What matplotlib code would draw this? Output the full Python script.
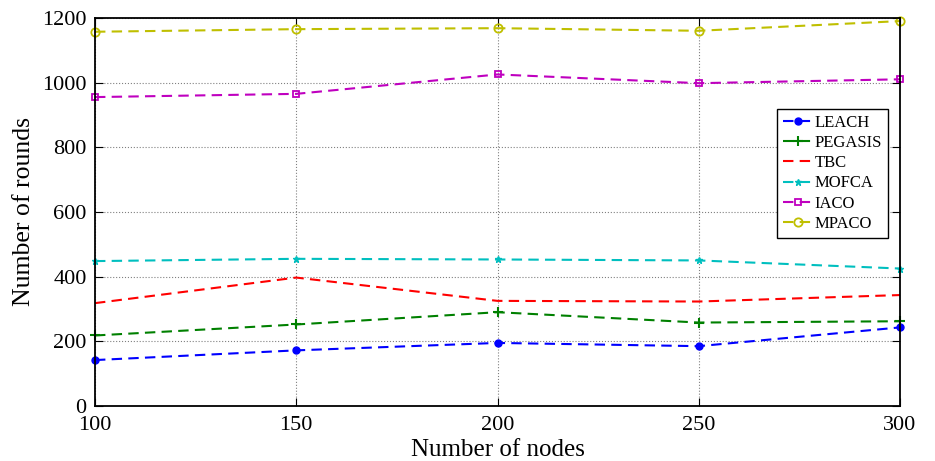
import numpy as np
import matplotlib.pyplot as plt

plt.rcParams['font.family'] = ['Liberation Serif', 'DejaVu Serif']

nodes = [100, 150, 200, 250, 300]
leach = [142, 172, 195, 185, 243]
pegasis = [218, 252, 290, 258, 262]
tbc = [318, 397, 325, 323, 343]
mofca = [448, 455, 453, 450, 425]
iaco = [955, 965, 1025, 998, 1010]
mpaco = [1157, 1165, 1168, 1160, 1190]

fig = plt.figure(figsize=(9.35, 4.61), dpi=100)
ax = fig.add_axes([0.1016, 0.1193, 0.861, 0.842])

dash = (5, 3)
kw = dict(lw=1.5, dashes=dash, clip_on=False)
ax.plot(nodes, leach, 'b', marker='o', markersize=5, label='LEACH', **kw)
ax.plot(nodes, pegasis, 'g', marker='+', markersize=7, mew=1.5, label='PEGASIS', **kw)
ax.plot(nodes, tbc, 'r', label='TBC', **kw)
ax.plot(nodes, mofca, 'c', marker='*', markersize=5, label='MOFCA', **kw)
ax.plot(nodes, iaco, 'm', marker='s', markersize=5, mfc='none', mew=1.3, label='IACO', **kw)
ax.plot(nodes, mpaco, 'y', marker='o', markersize=6, mfc='none', mew=1.3, label='MPACO', **kw)

ax.set_xlim(100, 300)
ax.set_ylim(0, 1200)
ax.set_xticks(nodes)
ax.set_yticks(range(0, 1201, 200))
ax.grid(True, linestyle=':', color='gray', linewidth=0.8)
ax.tick_params(direction='in', labelsize=16, top=True, right=True, length=6)
ax.tick_params(axis='x', pad=7)
ax.tick_params(axis='y', pad=6)
for s in ax.spines.values():
    s.set_linewidth(1.3)

ax.set_xlabel('Number of nodes', fontsize=18, labelpad=3)
ax.set_ylabel('Number of rounds', fontsize=18.5, labelpad=5)

leg = ax.legend(loc='upper left', bbox_to_anchor=(0.847, 0.765), fontsize=12,
                fancybox=False, edgecolor='black', framealpha=1,
                handlelength=1.8, borderaxespad=0, labelspacing=0.25,
                handletextpad=0.1, borderpad=0.35)
leg.get_frame().set_linewidth(1.0)

fig.savefig('out.png', dpi=100)
